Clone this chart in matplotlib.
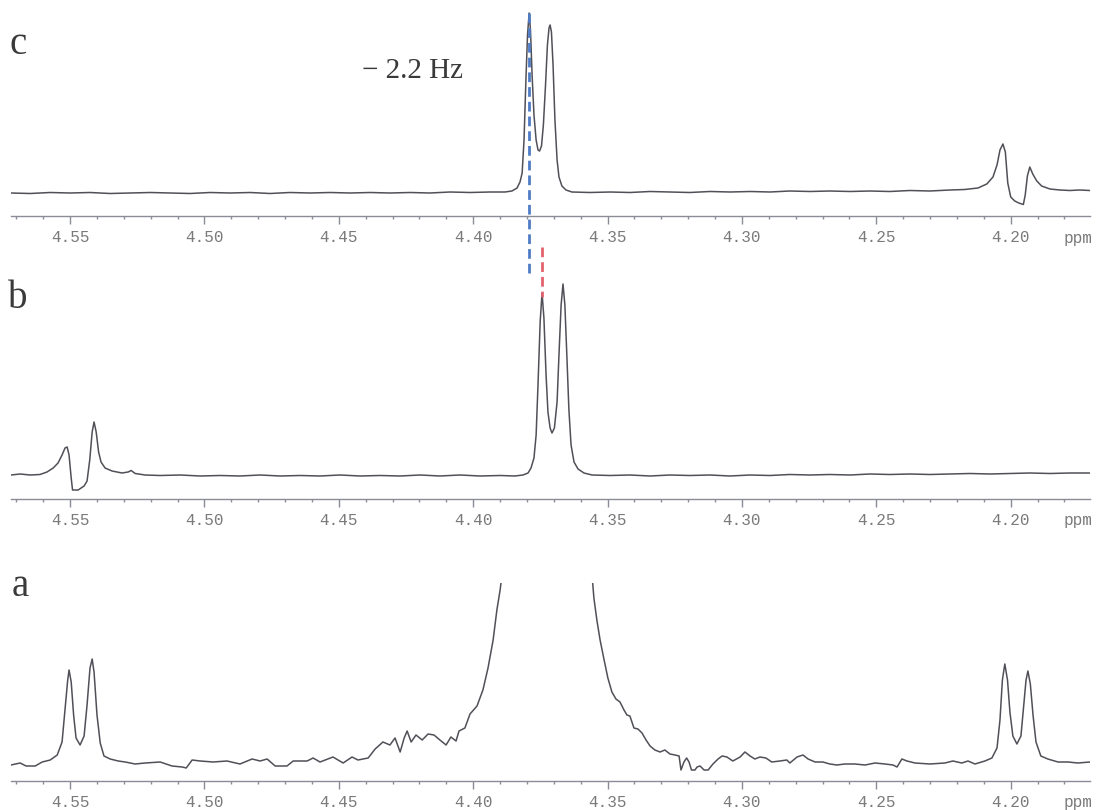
# Spectres RMN superposes (a, b, c) - region 4.17-4.57 ppm
import numpy as np
import matplotlib.pyplot as plt
from matplotlib.ticker import MultipleLocator, FormatStrFormatter

# ── Donnees (ppm, intensite arbitraire) ─────────────────────────────────────
ppm_c = [4.5720, 4.5649, 4.5574, 4.5500, 4.5426, 4.5351, 4.5277, 4.5202, 4.5128,
         4.5054, 4.4979, 4.4905, 4.4830, 4.4756, 4.4682, 4.4607, 4.4533, 4.4458,
         4.4384, 4.4310, 4.4235, 4.4161, 4.4086, 4.4012, 4.3938, 4.3882, 4.3856,
         4.3837, 4.3826, 4.3818, 4.3811, 4.3804, 4.3798, 4.3792, 4.3787, 4.3781,
         4.3774, 4.3766, 4.3759, 4.3753, 4.3746, 4.3739, 4.3731, 4.3724, 4.3718,
         4.3714, 4.3709, 4.3703, 4.3696, 4.3688, 4.3681, 4.3670, 4.3655, 4.3633,
         4.3566, 4.3491, 4.3417, 4.3342, 4.3268, 4.3194, 4.3119, 4.3045, 4.2970,
         4.2896, 4.2822, 4.2747, 4.2673, 4.2598, 4.2524, 4.2450, 4.2375, 4.2301,
         4.2226, 4.2171, 4.2122, 4.2089, 4.2066, 4.2051, 4.2040, 4.2029, 4.2020,
         4.2011, 4.2000, 4.1985, 4.1970, 4.1953, 4.1946, 4.1938, 4.1929, 4.1918,
         4.1903, 4.1885, 4.1854, 4.1817, 4.1780, 4.1743, 4.1705]
int_c = [23, 22.5, 23.5, 23, 23.5, 22.5, 23, 23.5, 23,
         22.5, 23.5, 23, 23.5, 22.5, 23.5, 23, 23.5, 23,
         23.5, 23, 23.5, 23, 24, 23.5, 24, 24, 25,
         28, 34, 43, 76, 136, 181, 203, 186, 141,
         101, 76, 66, 65, 70, 91, 131, 171, 188,
         191, 184, 151, 96, 56, 39, 30, 26, 24,
         23.5, 24, 23.5, 24.5, 24, 23.5, 24.5, 24, 24.5,
         24, 25, 24.5, 25, 24.5, 25, 24.5, 25.5, 25,
         26, 26.5, 28, 32, 39, 51, 66, 72, 64,
         33, 19, 15, 13, 11.5, 21, 40, 49, 42,
         35, 30, 27, 26, 25.5, 26, 25.5]

ppm_b = [4.5720, 4.5686, 4.5649, 4.5612, 4.5586, 4.5563, 4.5545, 4.5530, 4.5519,
         4.5511, 4.5504, 4.5496, 4.5491, 4.5470, 4.5448, 4.5437, 4.5427, 4.5418,
         4.5411, 4.5403, 4.5394, 4.5385, 4.5370, 4.5344, 4.5307, 4.5284, 4.5273,
         4.5258, 4.5221, 4.5165, 4.5091, 4.5016, 4.4942, 4.4868, 4.4793, 4.4719,
         4.4644, 4.4570, 4.4496, 4.4421, 4.4347, 4.4272, 4.4198, 4.4124, 4.4049,
         4.3975, 4.3900, 4.3845, 4.3815, 4.3796, 4.3785, 4.3774, 4.3766, 4.3759,
         4.3751, 4.3744, 4.3737, 4.3729, 4.3722, 4.3714, 4.3707, 4.3698, 4.3688,
         4.3681, 4.3673, 4.3666, 4.3659, 4.3651, 4.3644, 4.3636, 4.3625, 4.3610,
         4.3588, 4.3558, 4.3491, 4.3417, 4.3342, 4.3268, 4.3194, 4.3119, 4.3045,
         4.2970, 4.2896, 4.2822, 4.2747, 4.2673, 4.2598, 4.2524, 4.2450, 4.2375,
         4.2301, 4.2226, 4.2152, 4.2077, 4.2003, 4.1929, 4.1854, 4.1780, 4.1705]
int_b = [24, 25, 24, 24.5, 27, 31, 36, 44, 51,
         52, 44, 21, 9, 9, 13, 18, 39, 67,
         77, 67, 47, 37, 31, 28, 26, 27, 28.5,
         25.5, 24, 23.5, 24, 23, 23.5, 23, 24, 23,
         23.5, 23, 24, 23, 23.5, 23, 24, 23, 24,
         23, 23.5, 23, 24, 26, 31, 41, 64, 114,
         177, 206, 181, 124, 87, 71, 66, 71, 97,
         144, 194, 215, 194, 139, 89, 54, 37, 30,
         26, 24, 23.5, 24, 23, 24, 23.5, 24, 23,
         24, 23.5, 24.5, 24, 24.5, 24, 25, 24.5, 25,
         24.5, 25, 25.5, 25, 25.5, 26, 25.5, 26, 26]

ppm_a = [4.5720, 4.5686, 4.5664, 4.5630, 4.5604, 4.5574, 4.5548, 4.5530, 4.5519,
         4.5509, 4.5504, 4.5496, 4.5487, 4.5478, 4.5463, 4.5448, 4.5437, 4.5426,
         4.5418, 4.5411, 4.5400, 4.5388, 4.5374, 4.5351, 4.5321, 4.5295, 4.5258,
         4.5221, 4.5165, 4.5121, 4.5083, 4.5068, 4.5046, 4.5016, 4.4968, 4.4916,
         4.4868, 4.4823, 4.4793, 4.4767, 4.4737, 4.4693, 4.4670, 4.4618, 4.4596,
         4.4570, 4.4522, 4.4484, 4.4451, 4.4429, 4.4391, 4.4365, 4.4336, 4.4310,
         4.4291, 4.4272, 4.4257, 4.4246, 4.4231, 4.4213, 4.4190, 4.4168, 4.4146,
         4.4124, 4.4101, 4.4083, 4.4064, 4.4053, 4.4031, 4.4012, 4.3986, 4.3964,
         4.3945, 4.3926, 4.3912, 4.3900, 4.3893,
         4.3558, 4.3551, 4.3540, 4.3528, 4.3513, 4.3499, 4.3484, 4.3469, 4.3454,
         4.3439, 4.3428, 4.3417, 4.3402, 4.3387, 4.3372, 4.3357, 4.3342, 4.3324,
         4.3305, 4.3287, 4.3268, 4.3249, 4.3234, 4.3227, 4.3216, 4.3206, 4.3197,
         4.3188, 4.3175, 4.3167, 4.3156, 4.3141, 4.3126, 4.3108, 4.3089, 4.3074,
         4.3056, 4.3034, 4.3007, 4.2989, 4.2970, 4.2952, 4.2933, 4.2911, 4.2889,
         4.2859, 4.2833, 4.2822, 4.2795, 4.2773, 4.2754, 4.2728, 4.2699, 4.2673,
         4.2647, 4.2617, 4.2580, 4.2542, 4.2505, 4.2468, 4.2438, 4.2423, 4.2405,
         4.2386, 4.2356, 4.2301, 4.2245, 4.2215, 4.2182, 4.2159, 4.2133, 4.2096,
         4.2070, 4.2051, 4.2040, 4.2031, 4.2022, 4.2012, 4.2003, 4.1992, 4.1977,
         4.1962, 4.1953, 4.1943, 4.1936, 4.1927, 4.1917, 4.1906, 4.1888, 4.1862,
         4.1824, 4.1787, 4.1750, 4.1705]
int_a = [16, 18, 15, 15, 19, 21, 26, 39, 71,
         101, 111, 99, 66, 43, 36, 45, 76, 113,
         122, 109, 66, 38, 25, 22, 20, 19, 17,
         18, 19, 15, 14, 13, 21, 20, 19, 20,
         17, 22, 20, 22, 15, 15, 20, 20, 23,
         19, 24, 18, 24, 21, 23, 32, 39, 36,
         43, 29, 43, 50, 39, 46, 41, 47, 46,
         41, 36, 44, 40, 50, 53, 67, 75, 91,
         113, 141, 171, 191, 206,
         206, 183, 161, 141, 121, 103, 89, 82, 79,
         71, 66, 65, 53, 52, 48, 41, 35, 31,
         29, 31, 27, 26, 25, 11, 19, 23, 19,
         11, 11, 14, 15, 11, 11, 17, 22, 25,
         24, 20, 24, 29, 25, 22, 24, 23, 19,
         20, 21, 18, 24, 26, 22, 19, 19, 17,
         16, 17, 17, 16, 18, 17, 16, 14, 22,
         20, 18, 17, 18, 20, 18, 20, 17, 20,
         23, 33, 61, 101, 117, 101, 69, 45, 37,
         45, 71, 101, 110, 97, 66, 39, 25, 22,
         19, 19, 18, 19]

labels_panel = ['c', 'b', 'a']
ticks_major = [4.55, 4.50, 4.45, 4.40, 4.35, 4.30, 4.25, 4.20]

# Decalage de 2.2 Hz : position du pic en c (bleu) et en b (rouge)
pic_c = 4.3792
pic_b = 4.3744

# ── Mise en page ─────────────────────────────────────────────────────────────
W, H = 1097, 810
fig = plt.figure(figsize=(W / 100, H / 100), dpi=100)

x_gauche, x_droite = 11, 1090
xlim = (4.5720, 4.1705)
cor_traco = '#505058'
cor_eixo = '#8a8c98'
cor_txt = '#7a7a7a'

# (axe y du bas en px, hauteur en px) pour chaque panneau
paineis = [(216, 211), (499, 229), (781, 198)]
spectres = [(ppm_c, int_c), (ppm_b, int_b), (ppm_a, int_a)]

for (y_bas, h), (xs, ys) in zip(paineis, spectres):
    ax = fig.add_axes([x_gauche / W, (H - y_bas) / H,
                       (x_droite - x_gauche) / W, h / H])
    ax.plot(xs, ys, color=cor_traco, lw=1.1, solid_joinstyle='round')
    ax.set_xlim(*xlim)
    ax.set_ylim(0, h)
    for s in ['top', 'left', 'right']:
        ax.spines[s].set_visible(False)
    ax.spines['bottom'].set_color(cor_eixo)
    ax.spines['bottom'].set_linewidth(1.0)
    ax.set_yticks([])
    ax.set_xticks(ticks_major)
    ax.xaxis.set_minor_locator(MultipleLocator(0.01))
    ax.xaxis.set_major_formatter(FormatStrFormatter('%.2f'))
    ax.tick_params(axis='x', which='major', direction='out', length=5.5,
                   width=1, color=cor_eixo, pad=4.5, labelsize=11.5,
                   labelcolor=cor_txt)
    ax.tick_params(axis='x', which='minor', direction='out', length=2,
                   width=1, color=cor_eixo)
    for lab in ax.get_xticklabels():
        lab.set_family('Liberation Mono')
    ax.patch.set_alpha(0)
    fig.text(1078 / W, 1 - (y_bas + 22) / H, 'ppm', ha='center', va='center',
             fontsize=11.5, color=cor_txt, family='Liberation Mono')

# lettres des panneaux
for lettre, (px, py) in zip(labels_panel, [(18, 44), (18, 298), (20, 587)]):
    fig.text(px / W, 1 - py / H, lettre, ha='center', va='center',
             fontsize=28, color='#3a3a3a', family='Liberation Serif')

fig.text(412 / W, 1 - 71 / H, '\u2212 2.2 Hz', ha='center', va='center',
         fontsize=21, color='#3a3a3a', family='Liberation Serif')

# lignes pointillees qui traversent les panneaux
ov = fig.add_axes([x_gauche / W, 0, (x_droite - x_gauche) / W, 1])
ov.set_xlim(*xlim)
ov.set_ylim(H, 0)
ov.axis('off')
ov.plot([pic_c, pic_c], [13, 276], color='#4f7cc4', lw=2, ls=(0, (3.5, 1.8)))
ov.plot([pic_b, pic_b], [247, 297], color='#e2636e', lw=2, ls=(0, (3.5, 1.8)))

plt.savefig('out.png', dpi=100)
